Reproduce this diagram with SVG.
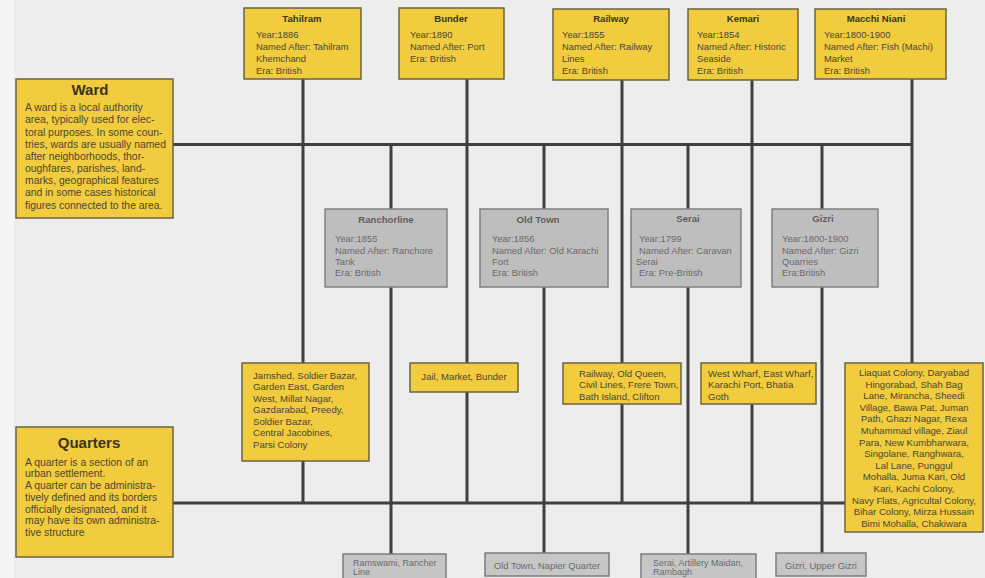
<svg xmlns="http://www.w3.org/2000/svg" width="985" height="578" viewBox="0 0 985 578">
<style>
text{font-family:"Liberation Sans",Arial,sans-serif}
.y{fill:#f1cc3f;stroke:#6b6440;stroke-width:1.5}
.g{fill:#bebebe;stroke:#808080;stroke-width:1.5}
.gb{fill:#c6c6c6;stroke:#7d7d7d;stroke-width:1.5}
.big{font-size:15px;font-weight:bold;fill:#3a3420;text-anchor:middle}
.desc{font-size:10.4px;fill:#4d4632}
.t{font-size:9.6px;font-weight:bold;fill:#3a3420;text-anchor:middle}
.b{font-size:9.4px;fill:#4d4632}
.tg{font-size:9.6px;font-weight:bold;fill:#5e5e5e;text-anchor:middle}
.bg{font-size:9.4px;fill:#6a6a6a}
.q{font-size:9.6px;fill:#4d4632}
.qc{font-size:9.6px;fill:#4d4632;text-anchor:middle}
.qg{font-size:9.4px;fill:#6a6a6a}
.qs{font-size:9px;fill:#6a6a6a}
.c{stroke:#404040;stroke-width:3;fill:none}
</style>
<rect width="985" height="578" fill="#ededed"/>
<rect width="14" height="578" fill="#f5f5f5"/>
<g id="connectors">
<path class="c" d="M173 144.5H912M173 503H845"/>
<path class="c" d="M303 79V503M467 79V503M622 80V503M752 80V503M912 79V363"/>
<path class="c" d="M391 144V209M391 287V554M544 144V209M544 287V553M688 144V209M688 287V554M822 144V209M822 287V553"/>
</g>
<g id="ward">
<rect class="y" x="16" y="79" width="157" height="139"/>
<text class="big" x="90" y="95">Ward</text>
<text class="desc" x="25"><tspan x="25" y="111">A ward is a local authority</tspan><tspan x="25" y="123">area, typically used for elec-</tspan><tspan x="25" y="135.5">toral purposes. In some coun-</tspan><tspan x="25" y="148">tries, wards are usually named</tspan><tspan x="25" y="160">after neighborhoods, thor-</tspan><tspan x="25" y="172">oughfares, parishes, land-</tspan><tspan x="25" y="184">marks, geographical features</tspan><tspan x="25" y="196">and in some cases historical</tspan><tspan x="25" y="208.5">figures connected to the area.</tspan></text>
</g>
<g id="quarters">
<rect class="y" x="16" y="427" width="157" height="130"/>
<text class="big" x="89" y="448">Quarters</text>
<text class="desc"><tspan x="25" y="465.5">A quarter is a section of an</tspan><tspan x="25" y="477">urban settlement.</tspan><tspan x="25" y="489">A quarter can be administra-</tspan><tspan x="25" y="501">tively defined and its borders</tspan><tspan x="25" y="512.5">officially designated, and it</tspan><tspan x="25" y="524">may have its own administra-</tspan><tspan x="25" y="536">tive structure</tspan></text>
</g>
<g id="tahilram">
<rect class="y" x="244" y="8" width="117" height="71"/>
<text class="t" x="302" y="21.5">Tahilram</text>
<text class="b"><tspan x="256" y="38">Year:1886</tspan><tspan x="256" y="50">Named After: Tahilram</tspan><tspan x="256" y="62">Khemchand</tspan><tspan x="256" y="74">Era: British</tspan></text>
</g>
<g id="bunder">
<rect class="y" x="399" y="8" width="105" height="71"/>
<text class="t" x="451" y="21.5">Bunder</text>
<text class="b"><tspan x="410" y="38">Year:1890</tspan><tspan x="410" y="50">Named After: Port</tspan><tspan x="410" y="62">Era: British</tspan></text>
</g>
<g id="railway">
<rect class="y" x="553" y="9" width="116" height="71"/>
<text class="t" x="611" y="22">Railway</text>
<text class="b"><tspan x="562" y="38">Year:1855</tspan><tspan x="562" y="50">Named After: Railway</tspan><tspan x="562" y="62">Lines</tspan><tspan x="562" y="74">Era: British</tspan></text>
</g>
<g id="kemari">
<rect class="y" x="688" y="9" width="110" height="71"/>
<text class="t" x="743" y="22">Kemari</text>
<text class="b"><tspan x="697" y="38">Year:1854</tspan><tspan x="697" y="50">Named After: Historic</tspan><tspan x="697" y="62">Seaside</tspan><tspan x="697" y="74">Era: British</tspan></text>
</g>
<g id="macchi-niani">
<rect class="y" x="815" y="9" width="131" height="70"/>
<text class="t" x="876" y="22">Macchi Niani</text>
<text class="b"><tspan x="824" y="38">Year:1800-1900</tspan><tspan x="824" y="50">Named After: Fish (Machi)</tspan><tspan x="824" y="62">Market</tspan><tspan x="824" y="74">Era: British</tspan></text>
</g>
<g id="ranchorline">
<rect class="g" x="325" y="209" width="122" height="78"/>
<text class="tg" x="386" y="223">Ranchorline</text>
<text class="bg"><tspan x="335" y="242">Year:1855</tspan><tspan x="335" y="254">Named After: Ranchore</tspan><tspan x="335" y="265">Tank</tspan><tspan x="335" y="276">Era: British</tspan></text>
</g>
<g id="old-town">
<rect class="g" x="480" y="209" width="128" height="78"/>
<text class="tg" x="538" y="223">Old Town</text>
<text class="bg"><tspan x="492" y="242">Year:1856</tspan><tspan x="492" y="254">Named After: Old Karachi</tspan><tspan x="492" y="265">Fort</tspan><tspan x="492" y="276">Era: British</tspan></text>
</g>
<g id="serai">
<rect class="g" x="631" y="209" width="110" height="78"/>
<text class="tg" x="688" y="222">Serai</text>
<text class="bg"><tspan x="639" y="242">Year:1799</tspan><tspan x="639" y="254">Named After: Caravan</tspan><tspan x="636" y="265">Serai</tspan><tspan x="639" y="276">Era: Pre-British</tspan></text>
</g>
<g id="gizri">
<rect class="g" x="772" y="209" width="106" height="78"/>
<text class="tg" x="823" y="222">Gizri</text>
<text class="bg"><tspan x="782" y="242">Year:1800-1900</tspan><tspan x="782" y="254">Named After: Gizri</tspan><tspan x="782" y="265">Quarries</tspan><tspan x="782" y="276">Era:British</tspan></text>
</g>
<g id="tahilram-quarters">
<rect class="y" x="242" y="363" width="127" height="98"/>
<text class="q"><tspan x="253" y="378.5">Jamshed, Soldier Bazar,</tspan><tspan x="253" y="390">Garden East, Garden</tspan><tspan x="253" y="401.5">West, Millat Nagar,</tspan><tspan x="253" y="413">Gazdarabad, Preedy,</tspan><tspan x="253" y="424.5">Soldier Bazar,</tspan><tspan x="253" y="436">Central Jacobines,</tspan><tspan x="253" y="447.5">Parsi Colony</tspan></text>
</g>
<g id="bunder-quarters">
<rect class="y" x="410" y="363" width="108" height="29"/>
<text class="qc" x="464" y="380">Jail, Market, Bunder</text>
</g>
<g id="railway-quarters">
<rect class="y" x="563" y="363" width="118" height="41"/>
<text class="q"><tspan x="579" y="376.5">Railway, Old Queen,</tspan><tspan x="579" y="388">Civil Lines, Frere Town,</tspan><tspan x="579" y="399.5">Bath Island, Clifton</tspan></text>
</g>
<g id="kemari-quarters">
<rect class="y" x="701" y="363" width="115" height="41"/>
<text class="q"><tspan x="708" y="376.5">West Wharf, East Wharf,</tspan><tspan x="708" y="388">Karachi Port, Bhatia</tspan><tspan x="708" y="399.5">Goth</tspan></text>
</g>
<g id="macchi-niani-quarters">
<rect class="y" x="845" y="363" width="138" height="169"/>
<text class="qc"><tspan x="914" y="376">Liaquat Colony, Daryabad</tspan><tspan x="914" y="387.6">Hingorabad, Shah Bag</tspan><tspan x="914" y="399.2">Lane, Mirancha, Sheedi</tspan><tspan x="914" y="410.8">Village, Bawa Pat, Juman</tspan><tspan x="914" y="422.4">Path, Ghazi Nagar, Rexa</tspan><tspan x="914" y="434">Muhammad village, Ziaul</tspan><tspan x="914" y="445.6">Para, New Kumbharwara,</tspan><tspan x="914" y="457.2">Singolane, Ranghwara,</tspan><tspan x="914" y="468.8">Lal Lane, Punggul</tspan><tspan x="914" y="480.4">Mohalla, Juma Kari, Old</tspan><tspan x="914" y="492">Kari, Kachi Colony,</tspan><tspan x="914" y="503.6">Navy Flats, Agricultal Colony,</tspan><tspan x="914" y="515.2">Bihar Colony, Mirza Hussain</tspan><tspan x="914" y="526.8">Bimi Mohalla, Chakiwara</tspan></text>
</g>
<g id="ranchorline-quarters">
<rect class="gb" x="343" y="554" width="103" height="30"/>
<text class="qs"><tspan x="353" y="565.5">Ramswami, Rancher</tspan><tspan x="353" y="575">Line</tspan></text>
</g>
<g id="old-town-quarters">
<rect class="gb" x="485" y="553" width="124" height="23"/>
<text class="qg" x="547" y="568.5" text-anchor="middle">Old Town, Napier Quarter</text>
</g>
<g id="serai-quarters">
<rect class="gb" x="641" y="554" width="115" height="30"/>
<text class="qs"><tspan x="653" y="565.5">Serai, Artillery Maidan,</tspan><tspan x="653" y="575">Rambagh</tspan></text>
</g>
<g id="gizri-quarters">
<rect class="gb" x="776" y="553" width="90" height="23"/>
<text class="qg" x="821" y="568.5" text-anchor="middle">Gizri, Upper Gizri</text>
</g>
</svg>
